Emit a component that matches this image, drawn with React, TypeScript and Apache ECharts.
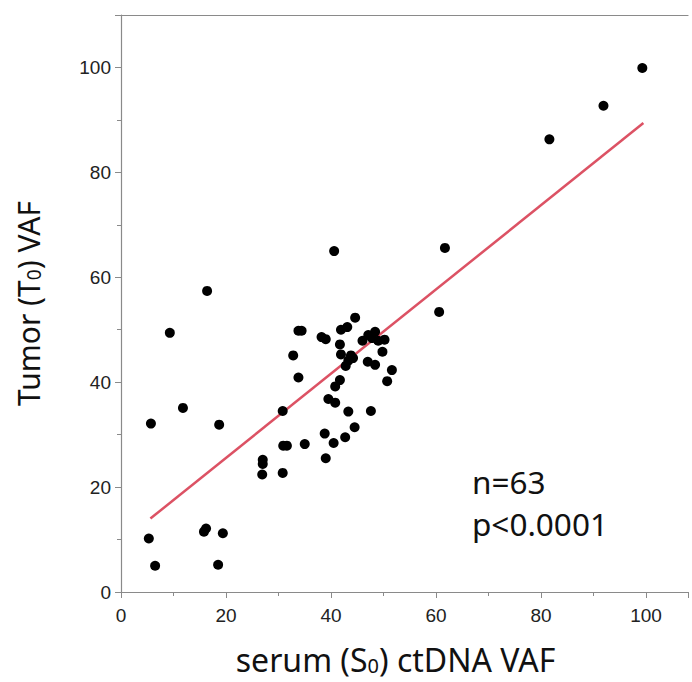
import React, { useEffect, useRef } from "react";
import * as echarts from "echarts";

const serumVAF: number[] = [
  99.3, 91.9, 81.6, 61.7, 60.6, 40.6, 16.4, 9.3, 11.8, 5.7, 18.7, 5.3, 6.5,
  15.8, 16.2, 19.4, 18.5,
  27.0, 27.0, 26.9, 30.8,
  30.9, 31.6, 35.0, 39.0, 40.5, 42.7, 38.8, 44.5,
  30.8, 43.3, 47.6, 39.5, 40.8,
  40.8, 41.7, 33.8, 50.7, 51.6,
  47.0, 48.4, 42.8, 43.3, 43.8,
  41.9, 32.8, 49.8, 41.7, 46.0,
  49.0, 50.2, 47.1, 48.4, 38.2, 39.0,
  41.9, 43.1, 33.8, 34.4, 44.6,
  47.8, 44.2,
];
const tumorVAF: number[] = [
  99.9, 92.7, 86.3, 65.6, 53.4, 65.0, 57.4, 49.4, 35.1, 32.1, 31.9, 10.2, 5.0,
  11.5, 12.1, 11.2, 5.2,
  25.2, 24.4, 22.4, 22.7,
  27.9, 27.9, 28.2, 25.5, 28.4, 29.5, 30.2, 31.4,
  34.5, 34.4, 34.5, 36.8, 36.1,
  39.2, 40.4, 40.9, 40.2, 42.3,
  43.9, 43.3, 43.1, 44.1, 45.1,
  45.3, 45.1, 45.8, 47.2, 47.9,
  47.9, 48.1, 49.0, 49.6, 48.6, 48.2,
  50.0, 50.5, 49.8, 49.8, 52.3,
  48.4, 44.6,
];

const fitX: number[] = [5.6, 99.5];
const fitY: number[] = [14.0, 89.4];

const xTicks: number[] = [0, 20, 40, 60, 80, 100];
const yTicks: number[] = [0, 20, 40, 60, 80, 100];
const annotations: string[] = ["n=63", "p<0.0001"];

export default function App() {
  const ref = useRef<HTMLDivElement>(null);
  useEffect(() => {
    if (!ref.current) return;
    const chart = echarts.init(ref.current, null, { renderer: "svg" });
    const axisColor = "#8a8a8a";
    const labelFont = "'Liberation Sans', Arial, sans-serif";
    const titleFont = "'Noto Sans', 'Open Sans', sans-serif";
    const xRich = {
      a: { fontSize: 32, lineHeight: 32, fontFamily: titleFont, color: "#111" },
      sub: { fontSize: 20, lineHeight: 20, fontFamily: titleFont, color: "#111", verticalAlign: "bottom", padding: [14, 0, 0, 0] },
    };
    const yRich = {
      a: { fontSize: 30, lineHeight: 30, fontFamily: titleFont, color: "#111" },
      sub: { fontSize: 19, lineHeight: 19, fontFamily: titleFont, color: "#111", verticalAlign: "bottom", padding: [13, 0, 0, 0] },
    };
    chart.setOption({
      animation: false,
      backgroundColor: "#ffffff",
      grid: {
        left: 121,
        right: 4,
        top: 15,
        bottom: 90,
        containLabel: false,
        outerBoundsMode: "none",
      },
      xAxis: [
        {
          type: "value",
          min: 0,
          max: 108,
          interval: 20,
          position: "bottom",
          splitLine: { show: false },
          axisLine: { show: true, onZero: false, lineStyle: { color: axisColor, width: 1.2 } },
          axisTick: { show: true, length: 6, lineStyle: { color: axisColor } },
          minorTick: { show: true, splitNumber: 2, length: 4, lineStyle: { color: axisColor } },
          axisLabel: {
            fontSize: 19,
            color: "#222",
            fontFamily: labelFont,
            margin: 14,
            formatter: (v: number) => (xTicks.includes(v) ? String(v) : ""),
          },
          name: "{a|serum (S}{sub|0}{a|) ctDNA VAF}",
          nameLocation: "middle",
          nameGap: 51,
          nameTextStyle: {
            fontSize: 32,
            fontFamily: titleFont,
            color: "#111",
            padding: [0, 18, 0, 0],
            rich: xRich,
          },
        },
        {
          type: "value",
          min: 0,
          max: 108,
          position: "top",
          splitLine: { show: false },
          axisLine: { show: true, onZero: false, lineStyle: { color: axisColor, width: 1.2 } },
          axisTick: { show: false },
          axisLabel: { show: false },
        },
      ],
      yAxis: {
        type: "value",
        min: 0,
        max: 110,
        interval: 20,
        splitLine: { show: false },
        axisLine: { show: true, onZero: false, lineStyle: { color: axisColor, width: 1.2 } },
        axisTick: { show: true, length: 6, lineStyle: { color: axisColor } },
        minorTick: { show: true, splitNumber: 2, length: 4, lineStyle: { color: axisColor } },
        axisLabel: {
          fontSize: 19,
          color: "#222",
          fontFamily: labelFont,
          margin: 10,
          formatter: (v: number) => (yTicks.includes(v) ? String(v) : ""),
        },
        name: "{a|Tumor (T}{sub|0}{a|) VAF}",
        nameLocation: "middle",
        nameGap: 78,
        nameTextStyle: { fontSize: 30, fontFamily: titleFont, color: "#111", rich: yRich },
      },
      series: [
        {
          type: "line",
          data: fitX.map((x, i) => [x, fitY[i]]),
          showSymbol: false,
          symbol: "none",
          lineStyle: { color: "#dc5264", width: 2.5 },
          z: 2,
        },
        {
          type: "scatter",
          data: serumVAF.map((x, i) => [x, tumorVAF[i]]),
          symbol: "circle",
          symbolSize: 10,
          itemStyle: { color: "#000000", opacity: 1 },
          z: 3,
        },
      ],
      graphic: annotations.map((t, i) => ({
        type: "text",
        x: 472,
        y: 481 + i * 42,
        style: {
          text: t,
          fontSize: 31.5,
          fontFamily: titleFont,
          fill: "#111",
          verticalAlign: "middle",
          align: "left",
        },
      })),
    });
    return () => chart.dispose();
  }, []);
  return (
    <div
      ref={ref}
      style={{ position: "absolute", left: 0, top: 0, width: 692, height: 682 }}
    />
  );
}
